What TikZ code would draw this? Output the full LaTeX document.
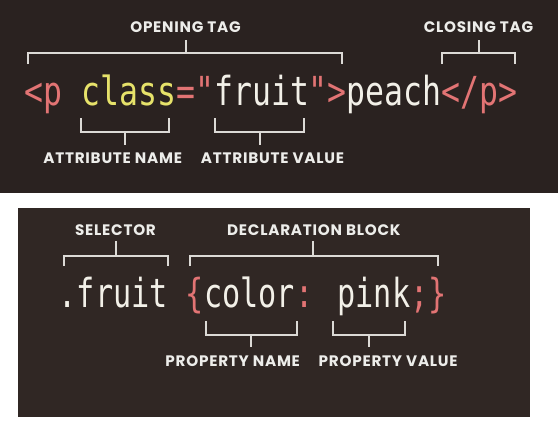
\documentclass[tikz,border=0pt]{standalone}
\usepackage{fontspec}
\newfontfamily\codetop[FakeStretch=0.787]{DejaVu Sans Mono}
\newfontfamily\codebot[FakeStretch=0.755]{DejaVu Sans Mono}
\newfontfamily\labfont[LetterSpace=5]{Poppins}
\definecolor{bgtop}{HTML}{2A2220}
\definecolor{bgbot}{HTML}{302724}
\definecolor{pk}{HTML}{E27474}
\definecolor{yl}{HTML}{E6E26A}
\definecolor{cw}{HTML}{F2F0E8}
\definecolor{labc}{HTML}{EDEDEA}
\definecolor{brkc}{HTML}{DCDAD6}
\begin{document}
\begin{tikzpicture}[x=1pt,y=-1pt,
  lab/.style={font=\labfont\bfseries\fontsize{15.2}{15}\selectfont, text=labc, inner sep=0pt, anchor=base},
  code/.style={inner sep=0pt, anchor=base west, text=cw},
  brk/.style={draw=brkc, line width=2pt}]
\useasboundingbox (0,0) rectangle (558,447);
\fill[white] (0,0) rectangle (558,447);
\fill[bgtop] (0,0) rectangle (558,193);
\fill[bgbot] (18,208) rectangle (530,417);

% ---------- top panel ----------
\node[code, font=\codetop\fontsize{40}{40}\selectfont] (html) at (24.5,105)
  {{\color{pk}<p} {\color{yl}class}{\color{pk}="}fruit{\color{pk}">}peach{\color{pk}</p>}};

\node[lab] (open)  at (185.5,32.5)  {OPENING TAG};
\node[lab] (close) at (478.5,32.5)  {CLOSING TAG};
\node[lab] (aname) at (112.7,163.5) {ATTRIBUTE NAME};
\node[lab] (aval)  at (272.5,163.5) {ATTRIBUTE VALUE};

% opening tag bracket
\coordinate (openm) at (185.7,53);
\draw[brk] (28,64) |- (342,53) -- (342,64);
\draw[brk] (openm) -- (185.7,40);
% closing tag bracket
\coordinate (closem) at (478.7,53);
\draw[brk] (442.3,64) |- (515.3,53) -- (515.3,64);
\draw[brk] (closem) -- (478.7,40);
% attribute name bracket
\coordinate (anm) at (125,131.5);
\draw[brk] (80.7,118) |- (169,131.5) -- (169,118);
\draw[brk] (anm) -- (125,145);
% attribute value bracket
\coordinate (avm) at (259.5,131.5);
\draw[brk] (215,118) |- (304,131.5) -- (304,118);
\draw[brk] (avm) -- (259.5,145);

% ---------- bottom panel ----------
\node[code, font=\codebot\fontsize{40}{40}\selectfont] (css) at (58.5,307)
  {.fruit {\color{pk}\{}color{\color{pk}:} pink{\color{pk};\}}};

\node[lab] (sel)   at (115.5,235) {SELECTOR};
\node[lab] (decl)  at (313.8,235) {DECLARATION BLOCK};
\node[lab] (pname) at (232.7,366.5) {PROPERTY NAME};
\node[lab] (pval)  at (388.2,366.5) {PROPERTY VALUE};

% selector bracket
\coordinate (selm) at (115.7,255.7);
\draw[brk] (63.7,266) |- (168,255.7) -- (168,266);
\draw[brk] (selm) -- (115.7,241);
% declaration block bracket
\coordinate (declm) at (313.3,255.7);
\draw[brk] (190.3,266) |- (437.7,255.7) -- (437.7,266);
\draw[brk] (declm) -- (313.3,241);
% property name bracket
\coordinate (pnm) at (251.3,335.3);
\draw[brk] (205.7,321.3) |- (296.7,335.3) -- (296.7,321.3);
\draw[brk] (pnm) -- (251.3,347.3);
% property value bracket
\coordinate (pvm) at (369,335.3);
\draw[brk] (332.7,321.3) |- (405,335.3) -- (405,321.3);
\draw[brk] (pvm) -- (369,347.3);
\end{tikzpicture}
\end{document}
